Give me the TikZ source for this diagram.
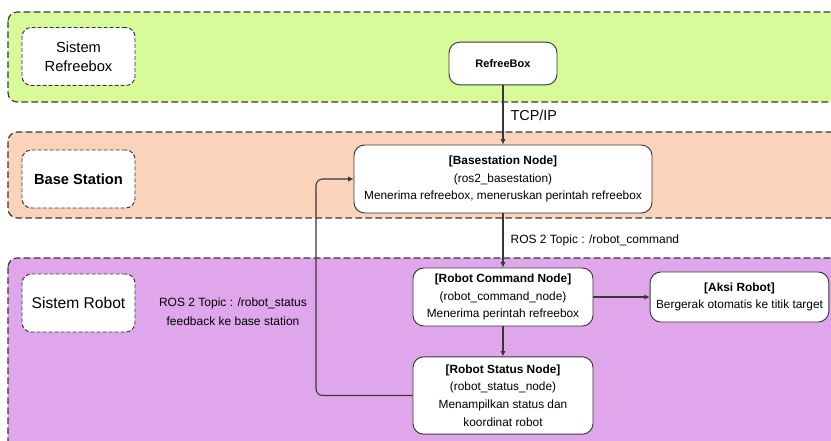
\documentclass[tikz,border=0pt]{standalone}
\usepackage{fontspec}
\setmainfont{Liberation Sans}
\usetikzlibrary{positioning,arrows.meta}
\definecolor{bandgreen}{RGB}{214,251,152}
\definecolor{bandpeach}{RGB}{250,211,186}
\definecolor{bandviolet}{RGB}{224,166,236}
\definecolor{linegray}{RGB}{55,55,55}
\tikzset{
  band/.style={draw=linegray, line width=0.9pt, dash pattern=on 5pt off 2.5pt, rounded corners=7pt},
  tag/.style={draw=linegray, fill=white, line width=0.7pt, dash pattern=on 3pt off 1.5pt, rounded corners=7pt,
    minimum width=84.75pt, minimum height=43.5pt, align=center},
  proc/.style={draw=linegray, fill=white, line width=0.7pt, rounded corners=8pt, align=center,
    inner sep=2pt, font=\fontsize{8.9}{13.2}\selectfont},
  flow/.style={draw=linegray, line width=0.8pt, -{Latex[length=4pt,width=4pt]}}
}
\begin{document}
\begin{tikzpicture}[x=0.75pt,y=-0.75pt]
\clip (0,0) rectangle (831,441);
\fill[white] (0,0) rectangle (831,441);
% bands
\filldraw[band, fill=bandgreen] (8,12) rectangle (845,102);
\filldraw[band, fill=bandpeach] (8,132) rectangle (845,218);
\filldraw[band, fill=bandviolet] (8,258) rectangle (845,458);
% band tags
\node[tag, font=\fontsize{11}{14}\selectfont] (t1) at (78.5,56.5) {Sistem\\Refreebox};
\node[tag, font=\fontsize{11}{13}\selectfont\bfseries] (t2) at (78.5,179) {Base Station};
\node[tag, font=\fontsize{11.7}{13}\selectfont] (t3) at (78.5,303) {Sistem Robot};
% nodes
\node[proc, minimum width=81pt, minimum height=32pt, font=\fontsize{8.25}{10}\selectfont\bfseries] (rb) at (503,63.5) {RefreeBox};
\node[proc, minimum width=223.5pt, minimum height=51pt] (bs) at (503,179) {\textbf{[Basestation Node]}\\(ros2\_basestation)\\Menerima refreebox, meneruskan perintah refreebox};
\node[proc, minimum width=135pt, minimum height=43.5pt] (rc) at (503,297) {\textbf{[Robot Command Node]}\\(robot\_command\_node)\\Menerima perintah refreebox};
\node[proc, minimum width=134pt, minimum height=37.5pt] (ar) at (739.5,297) {\textbf{[Aksi Robot]}\\Bergerak otomatis ke titik target};
\node[proc, minimum width=135pt, minimum height=58pt] (rs) at (503,395.5) {\textbf{[Robot Status Node]}\\(robot\_status\_node)\\Menampilkan status dan\\koordinat robot};
% links
\draw[flow] (rb) -- node[midway, right=2pt, font=\fontsize{10.8}{12}\selectfont] (tcp) {TCP/IP} (bs);
\draw[flow] (bs) -- node[midway, right=2pt, font=\fontsize{9}{10}\selectfont] (cmd) {ROS 2 Topic : /robot\_command} (rc);
\draw[flow] (rc) -- (ar);
\draw[flow] (rc) -- (rs);
\coordinate (fb) at (316,290);
\draw[flow, rounded corners=5pt] (rs.west) -| (fb) |- (bs.west);
\node[align=center, font=\fontsize{9}{14.5}\selectfont] (st) at (233,312) {ROS 2 Topic : /robot\_status\\feedback ke base station};
\end{tikzpicture}
\end{document}
